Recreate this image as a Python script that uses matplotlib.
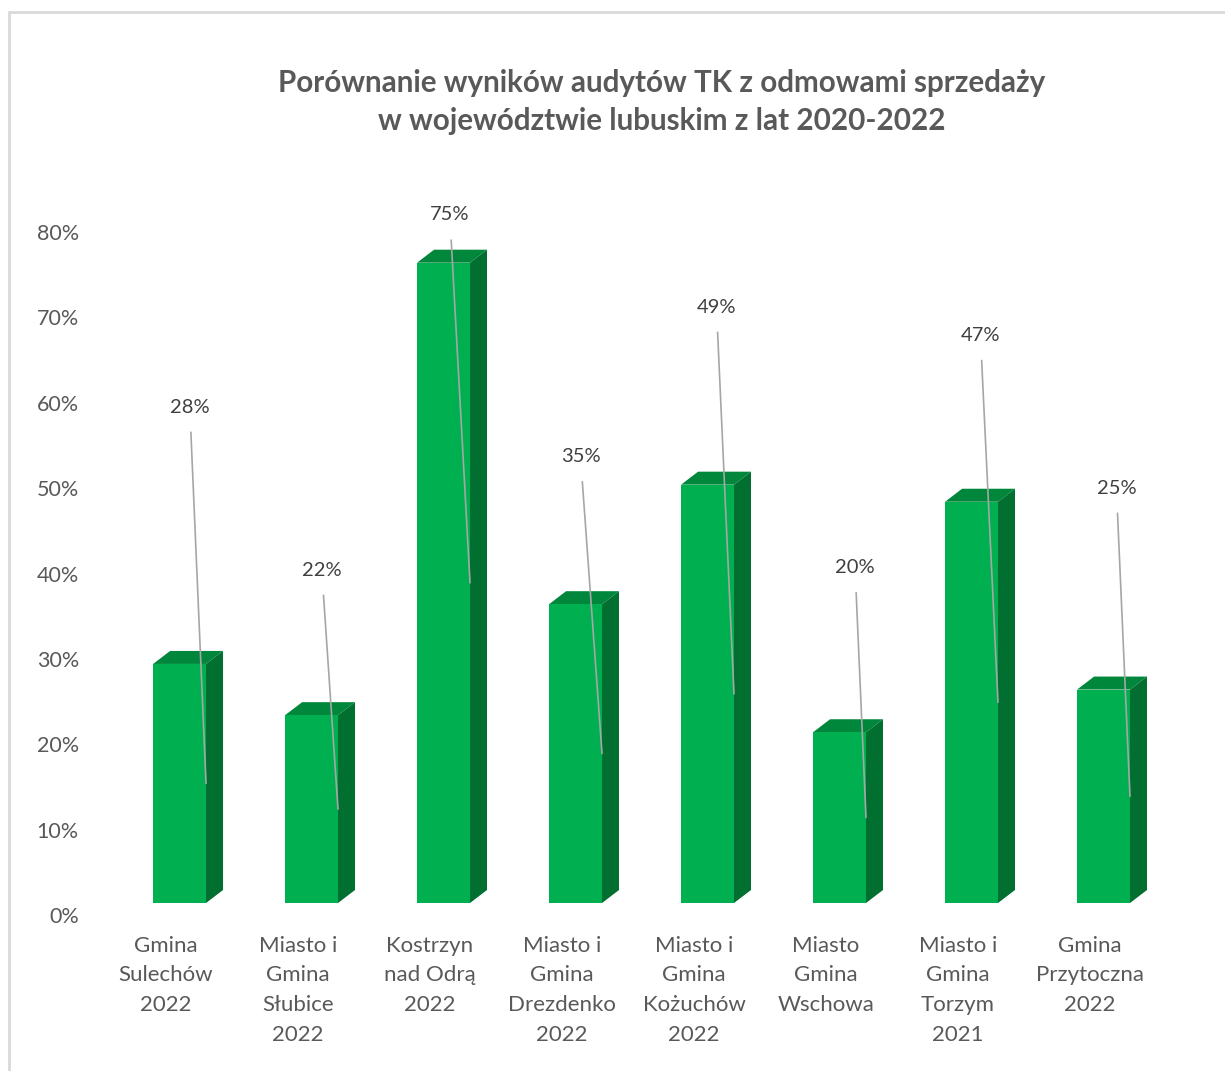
import matplotlib.pyplot as plt
from matplotlib.patches import Polygon, Rectangle

# Dane
kategorie = ['Gmina\nSulechów\n2022', 'Miasto i\nGmina\nSłubice\n2022', 'Kostrzyn\nnad Odrą\n2022',
             'Miasto i\nGmina\nDrezdenko\n2022', 'Miasto i\nGmina\nKożuchów\n2022', 'Miasto\nGmina\nWschowa',
             'Miasto i\nGmina\nTorzym\n2021', 'Gmina\nPrzytoczna\n2022']
wartosci = [28, 22, 75, 35, 49, 20, 47, 25]
etykiety = ['28%', '22%', '75%', '35%', '49%', '20%', '47%', '25%']

# Pozycje etykiet danych (ręcznie przesunięte jak w oryginale)
etykiety_x = [0.18, 0.18, 0.15, 0.14, 0.17, 0.22, 0.17, 0.20]
etykiety_y = [59.5, 40.4, 82.0, 53.7, 71.2, 40.7, 67.9, 50.0]

szary = '#595959'
plt.rcParams['font.family'] = ['Lato', 'DejaVu Sans']

fig = plt.figure(figsize=(12.25, 10.71), dpi=100)
fig.patches.append(Rectangle((9 / 1225, -0.05), 1.2, (1071 - 12) / 1071 + 0.05, transform=fig.transFigure,
                             fill=False, edgecolor='#d9d9d9', linewidth=2))

# osie: 0% na y=915 px, 80% na y=232 px; kategoria i na x=166+132*i
px_y = (915 - 232) / 80
ax = fig.add_axes([90 / 1225, (1071 - 915) / 1071, (1156 - 90) / 1225, 85 * px_y / 1071])
ax.set_xlim(-0.576, 7.5)
ax.set_ylim(0, 85)

baza = 12 / px_y
dx = 17 / 132
dy = 13 / px_y
lewo, prawo = -0.098, 0.303

for i, v in enumerate(wartosci):
    x0, x1 = i + lewo, i + prawo
    y0, y1 = baza, baza + v
    ax.add_patch(Polygon([(x0, y1), (x1, y1), (x1 + dx, y1 + dy), (x0 + dx, y1 + dy)],
                         closed=True, facecolor='#00873b', edgecolor='none'))
    ax.add_patch(Polygon([(x1, y0), (x1 + dx, y0 + dy), (x1 + dx, y1 + dy), (x1, y1)],
                         closed=True, facecolor='#006f2f', edgecolor='none'))
    ax.add_patch(Rectangle((x0, y0), x1 - x0, v, facecolor='#00b050', edgecolor='none'))
    ax.annotate(etykiety[i], xy=(x1, y0 + v / 2), xytext=(i + etykiety_x[i], etykiety_y[i]),
                ha='center', va='center', fontsize=14.5, color='#404040',
                arrowprops=dict(arrowstyle='-', color='#a6a6a6', lw=1.2, shrinkA=10, shrinkB=0))

ax.set_xticks(range(len(kategorie)))
ax.set_xticklabels(kategorie, fontsize=16, color=szary, linespacing=1.6, va='top')
ax.set_yticks(range(0, 90, 10))
ax.set_yticklabels([f'{t}%' for t in range(0, 90, 10)], fontsize=15.5, color=szary)
ax.set_ylim(0, 85)
ax.tick_params(length=0, axis='x', pad=15)
ax.tick_params(length=0, axis='y', pad=8)
for s in ax.spines.values():
    s.set_visible(False)

fig.text(662 / 1225, 1 - 102 / 1071,
         'Porównanie wyników audytów TK z odmowami sprzedaży\nw województwie lubuskim z lat 2020-2022',
         ha='center', va='center', fontsize=21.3, fontweight='bold', color=szary, linespacing=1.4)

fig.savefig('out.png', dpi=100)
